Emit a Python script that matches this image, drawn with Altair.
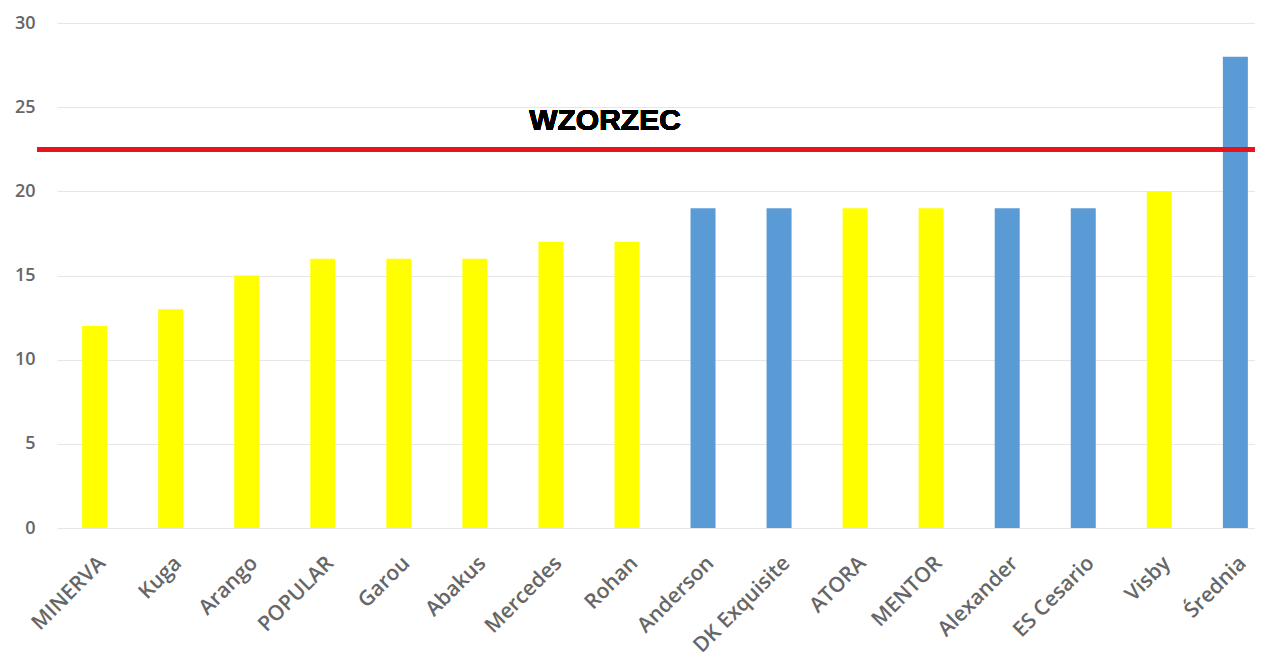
import altair as alt
import pandas as pd

categories = ["MINERVA", "Kuga", "Arango", "POPULAR", "Garou", "Abakus", "Mercedes", "Rohan",
              "Anderson", "DK Exquisite", "ATORA", "MENTOR", "Alexander", "ES Cesario", "Visby", "Średnia"]
values = [12, 13, 15, 16, 16, 16, 17, 17, 19, 19, 19, 19, 19, 19, 20, 28]
groups = ["y", "y", "y", "y", "y", "y", "y", "y", "b", "b", "y", "y", "b", "b", "y", "b"]
reference_value = 22.5
reference_label = "WZORZEC"
y_ticks = [0, 5, 10, 15, 20, 25, 30]

df = pd.DataFrame({"cat": categories, "val": values, "grp": groups})

W = 1198
H = 505

x_enc = alt.X("cat:N", sort=categories, title=None,
              scale=alt.Scale(range=[0, 1216], paddingInner=0.67, paddingOuter=0.33),
              axis=alt.Axis(labelAngle=-45, labelFontSize=21, labelColor="#666666",
                            labelFont="Open Sans", labelFontWeight=600, ticks=False, domain=False,
                            labelPadding=24, grid=False))
y_enc = alt.Y("val:Q", title=None,
              scale=alt.Scale(domain=[0, 30]),
              axis=alt.Axis(values=y_ticks, labelFontSize=18, labelColor="#666666",
                            labelFont="Open Sans", labelFontWeight=600, ticks=False, domain=False,
                            labelPadding=22, gridColor="#e6e6e6", gridWidth=1))

bars = alt.Chart(df).mark_bar(size=25).encode(
    x=x_enc, y=y_enc,
    color=alt.Color("grp:N", scale=alt.Scale(domain=["y", "b"], range=["#ffff00", "#5b9bd5"]), legend=None),
)

rule = alt.Chart(df).mark_rule(color="#e8141b", strokeWidth=4).encode(
    y=alt.datum(reference_value),
    x=alt.value(-20),
    x2=alt.value(W + 20),
)

label = alt.Chart(df).mark_text(fontSize=30, fontWeight="bold", font="Liberation Sans",
                                color="#000000", align="center", dx=-22, dy=-28).encode(
    x=alt.datum("Rohan"),
    y=alt.datum(reference_value),
    text=alt.value(reference_label),
)

chart = alt.layer(bars, rule, label).properties(
    width=W, height=H,
    autosize=alt.AutoSizeParams(type="none"),
    padding={"left": 49, "top": 15, "right": 0, "bottom": 136},
).configure_view(stroke=None)

chart.save("out.html", embed_options={"renderer": "svg", "actions": False})
